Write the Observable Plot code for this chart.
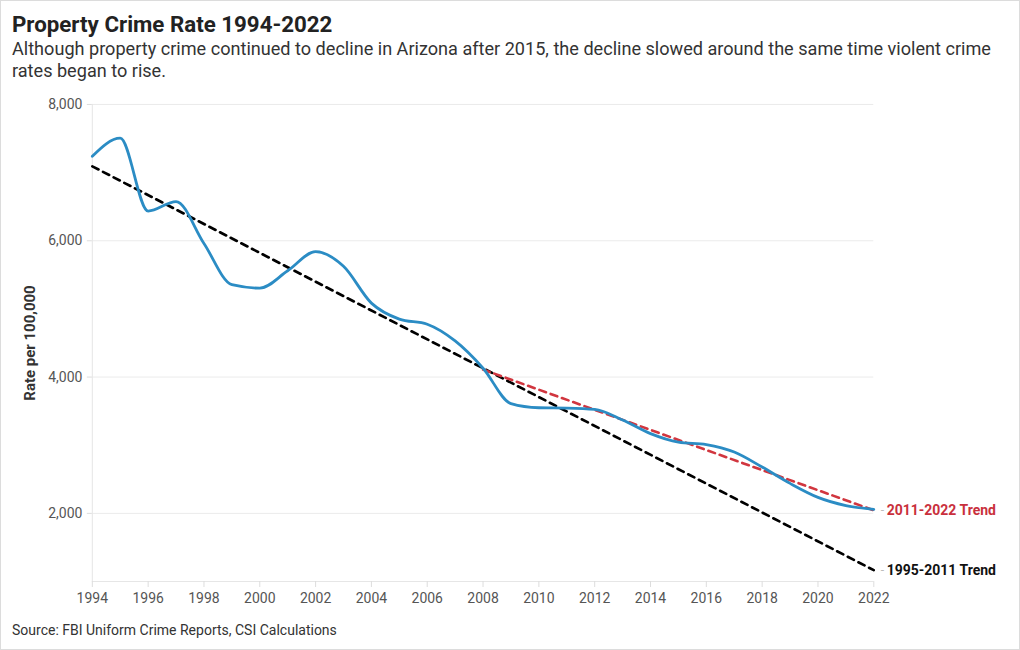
<!DOCTYPE html>
<html>
<head>
<meta charset="utf-8">
<script src="https://cdn.jsdelivr.net/npm/d3@7"></script>
<script src="https://cdn.jsdelivr.net/npm/@observablehq/plot@0.6"></script>
<style>
  html, body { margin: 0; padding: 0; background: #fff; }
  #frame { position: relative; width: 1020px; height: 650px; box-sizing: border-box; border: 1px solid #dcdcdc; overflow: hidden; font-family: Roboto, "Open Sans", sans-serif; }
  #title { position: absolute; left: 11px; top: 9px; font-size: 22.3px; font-weight: 700; color: #222; line-height: 28px; }
  #subtitle { position: absolute; left: 11px; top: 37px; font-size: 18.1px; color: #333; line-height: 22px; white-space: nowrap; }
  #chart { position: absolute; left: -1px; top: 87px; }
  #source { position: absolute; left: 11px; top: 621px; font-size: 14px; color: #333; }
</style>
</head>
<body>
<div id="frame">
  <div id="title">Property Crime Rate 1994-2022</div>
  <div id="subtitle">Although property crime continued to decline in Arizona after 2015, the decline slowed around the same time violent crime<br>rates began to rise.</div>
  <div id="chart"></div>
  <div id="source">Source: FBI Uniform Crime Reports, CSI Calculations</div>
</div>
<script>
const years = [1994, 1995, 1996, 1997, 1998, 1999, 2000, 2001, 2002, 2003, 2004, 2005, 2006, 2007, 2008, 2009, 2010, 2011, 2012, 2013, 2014, 2015, 2016, 2017, 2018, 2019, 2020, 2021, 2022];
const rates = [7240, 7505, 6435, 6575, 5960, 5355, 5305, 5560, 5840, 5625, 5085, 4850, 4775, 4530, 4130, 3610, 3550, 3545, 3525, 3370, 3170, 3045, 3010, 2900, 2680, 2440, 2235, 2115, 2060];

const trendOldYears = [1994, 2022];
const trendOldValues = [7093, 1166];
const trendOldLabel = "1995-2011 Trend";

const trendNewYears = [2008, 2022];
const trendNewValues = [4110, 2045];
const trendNewLabel = "2011-2022 Trend";

const yTicks = [2000, 4000, 6000, 8000];
const xTicks = [1994, 1996, 1998, 2000, 2002, 2004, 2006, 2008, 2010, 2012, 2014, 2016, 2018, 2020, 2022];
const yLabel = "Rate per 100,000";

const series = years.map((y, i) => ({year: y, rate: rates[i]}));
const oldTrend = trendOldYears.map((y, i) => ({year: y, rate: trendOldValues[i]}));
const newTrend = trendNewYears.map((y, i) => ({year: y, rate: trendNewValues[i]}));
const labels = [
  {year: trendNewYears[trendNewYears.length - 1], rate: trendNewValues[trendNewValues.length - 1], text: trendNewLabel, color: "#c9303c"},
  {year: trendOldYears[trendOldYears.length - 1], rate: trendOldValues[trendOldValues.length - 1], text: trendOldLabel, color: "#111"}
];

const chart = Plot.plot({
  width: 1021,
  height: 524,
  marginLeft: 92,
  marginRight: 146,
  marginTop: 16,
  marginBottom: 30,
  style: {fontFamily: "Roboto, sans-serif", fontSize: "14px", color: "#555", background: "transparent"},
  x: {domain: [1994, 2022]},
  y: {domain: [1000, 8000]},
  marks: [
    Plot.gridY(yTicks, {stroke: "#ebebeb", strokeOpacity: 1}),
    Plot.ruleX([1994], {stroke: "#e6e6e6"}),
    Plot.ruleY([1000], {stroke: "#e6e6e6"}),
    Plot.axisY(yTicks, {tickSize: 5, tickPadding: 5, stroke: "#ddd", fill: "#555", fontSize: 14, label: null}),
    Plot.axisX(xTicks, {tickSize: 6, tickPadding: 6, stroke: "#ddd", fill: "#555", fontSize: 14, tickFormat: d => String(d), label: null}),
    Plot.text([yLabel], {frameAnchor: "left", textAnchor: "middle", dx: -62, rotate: -90, fontWeight: "bold", fontSize: 15, fill: "#333"}),
    Plot.line(oldTrend, {x: "year", y: "rate", stroke: "#000", strokeWidth: 2.6, strokeDasharray: "7,5"}),
    Plot.line(newTrend, {x: "year", y: "rate", stroke: "#d1363f", strokeWidth: 2.6, strokeDasharray: "7,5"}),
    Plot.line(series, {x: "year", y: "rate", stroke: "#2b8cc4", strokeWidth: 2.8, curve: "monotone-x"}),
    Plot.text(labels, {x: "year", y: "rate", text: d => "-", dx: 7, fill: "#bbb", fontSize: 12, textAnchor: "start"}),
    Plot.text(labels, {x: "year", y: "rate", text: "text", fill: "color", dx: 13, textAnchor: "start", fontWeight: "bold", fontSize: 14})
  ]
});
document.getElementById("chart").appendChild(chart);
</script>
</body>
</html>
